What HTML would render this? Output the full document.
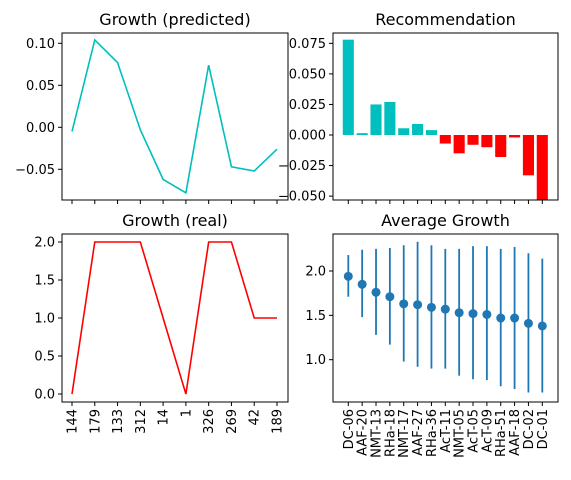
<!DOCTYPE html>
<html><head><meta charset="utf-8"><style>
body{margin:0;background:#fff;width:571px;height:475px;overflow:hidden}
text{font-family:"DejaVu Sans","Liberation Sans",sans-serif;fill:#000}
</style></head><body>
<svg id="c" width="571" height="475" xmlns="http://www.w3.org/2000/svg"></svg>
<script>
const predVals=[-0.005,0.104,0.077,-0.003,-0.062,-0.078,0.074,-0.047,-0.052,-0.026];
const realVals=[0,2,2,2,1,0,2,2,1,1];
const realLabels=["144","179","133","312","14","1","326","269","42","189"];
const predTicks=[0.10,0.05,0.00,-0.05];
const predTickLabels=["0.10","0.05","0.00","\u22120.05"];
const realTicks=[2.0,1.5,1.0,0.5,0.0];
const realTickLabels=["2.0","1.5","1.0","0.5","0.0"];
const recVals=[0.078,0.0015,0.025,0.027,0.0055,0.009,0.004,-0.007,-0.015,-0.008,-0.010,-0.018,-0.002,-0.033,-0.053];
const recTicks=[0.075,0.050,0.025,0.000,-0.025,-0.050];
const recTickLabels=["0.075","0.050","0.025","0.000","\u22120.025","\u22120.050"];
const avgLabels=["DC-06","AAF-20","NMT-13","RHa-18","NMT-17","AAF-27","RHa-36","AcT-11","NMT-05","AcT-05","AcT-09","RHa-51","AAF-18","DC-02","DC-01"];
const avgMean=[1.94,1.85,1.76,1.71,1.63,1.62,1.59,1.57,1.53,1.52,1.51,1.47,1.47,1.41,1.38];
const avgHi=[2.18,2.24,2.25,2.26,2.29,2.33,2.29,2.25,2.25,2.28,2.28,2.25,2.27,2.20,2.14];
const avgLo=[1.71,1.48,1.28,1.17,0.98,0.92,0.90,0.90,0.82,0.78,0.77,0.70,0.67,0.63,0.63];
const avgTicks=[2.0,1.5,1.0];
const avgTickLabels=["2.0","1.5","1.0"];

const svg=document.getElementById('c');
const NS='http://www.w3.org/2000/svg';
function mk(t,a,p){const e=document.createElementNS(NS,t);for(const k in a)e.setAttribute(k,a[k]);(p||svg).appendChild(e);return e;}

function frame(x0,y0,x1,y1,title,name){
  const r=mk('rect',{x:x0,y:y0,width:x1-x0,height:y1-y0,fill:'none',stroke:'#000','stroke-width':1});
  
  
  const t=mk('text',{x:(x0+x1)/2,y:y0-8,'text-anchor':'middle','font-size':16});
  t.textContent=title;
  
  
}
function yticks(x0,ticks,labels,ys,name){
  ticks.forEach((v,i)=>{const y=ys(v);
    mk('line',{x1:x0-4,x2:x0,y1:y,y2:y,stroke:'#000'});
    const t=mk('text',{x:x0-7,y:y+4.5,'text-anchor':'end','font-size':13});
    t.textContent=labels[i];
    
    
  });
}
function xticks(xs,n,yb){for(let i=0;i<n;i++){const x=xs(i);mk('line',{x1:x,x2:x,y1:yb,y2:yb+4,stroke:'#000'});}}
function xlabels(xs,labels,yb,name){
  labels.forEach((l,i)=>{const x=xs(i);
    const t=mk('text',{x:0,y:0,'text-anchor':'end','font-size':13,transform:`translate(${x+4.5},${yb+7}) rotate(-90)`});
    t.textContent=l;
    
    
  });
}

// Panel 1: predicted
{const x0=62,x1=288,y0=33,y1=200;
 const xs=i=>72+i*(277-72)/(predVals.length-1);
 const ys=v=>127.3-v*840;
 const pts=predVals.map((v,i)=>xs(i)+','+ys(v)).join(' ');
 const l=mk('polyline',{points:pts,fill:'none',stroke:'#00bfbf','stroke-width':1.6});
 
 
 frame(x0,y0,x1,y1,'Growth (predicted)','predicted-panel');
 yticks(x0,predTicks,predTickLabels,ys,'predicted');
 xticks(xs,predVals.length,y1);
}
// Panel 3: real
{const x0=62,x1=288,y0=234,y1=402;
 const xs=i=>72+i*(277-72)/(realVals.length-1);
 const ys=v=>394-v*76;
 const pts=realVals.map((v,i)=>xs(i)+','+ys(v)).join(' ');
 const l=mk('polyline',{points:pts,fill:'none',stroke:'#ff0000','stroke-width':1.6});
 
 
 frame(x0,y0,x1,y1,'Growth (real)','real-panel');
 yticks(x0,realTicks,realTickLabels,ys,'real');
 xticks(xs,realVals.length,y1);
 xlabels(xs,realLabels,y1,'real');
}
// Panel 2: recommendation
{const x0=333,x1=558,y0=33,y1=200;
 const step=(542.3-348.3)/(recVals.length-1);
 const xs=i=>348.3+i*step;
 const ys=v=>135-v*1222;
 const g=mk('g',{'clip-path':'url(#cp2)'});
 const d=mk('defs',{});const cp=mk('clipPath',{id:'cp2'},d);mk('rect',{x:x0,y:y0,width:x1-x0,height:y1-y0},cp);
 recVals.forEach((v,i)=>{const yv=ys(v),yz=ys(0);
   const b=mk('rect',{x:xs(i)-step*0.4,y:Math.min(yv,yz),width:step*0.8,height:Math.abs(yv-yz),fill:v>=0?'#00bfbf':'#ff0000'},g);
   
   
 });
 frame(x0,y0,x1,y1,'Recommendation','recommendation-panel');
 yticks(x0,recTicks,recTickLabels,ys,'recommendation');
 xticks(xs,recVals.length,y1);
}
// Panel 4: average growth
{const x0=333,x1=558,y0=234,y1=402;
 const xs=i=>348.3+i*(542.3-348.3)/(avgMean.length-1);
 const ys=v=>271-(v-2)*88.7;
 avgMean.forEach((v,i)=>{const x=xs(i);
   const e=mk('line',{x1:x,x2:x,y1:ys(avgHi[i]),y2:ys(avgLo[i]),stroke:'#1f77b4','stroke-width':1.8});
   
   
   const c=mk('circle',{cx:x,cy:ys(v),r:4.5,fill:'#1f77b4'});
   
   
 });
 frame(x0,y0,x1,y1,'Average Growth','average-panel');
 yticks(x0,avgTicks,avgTickLabels,ys,'average');
 xticks(xs,avgMean.length,y1);
 xlabels(xs,avgLabels,y1,'average');
}
</script>
</body></html>
